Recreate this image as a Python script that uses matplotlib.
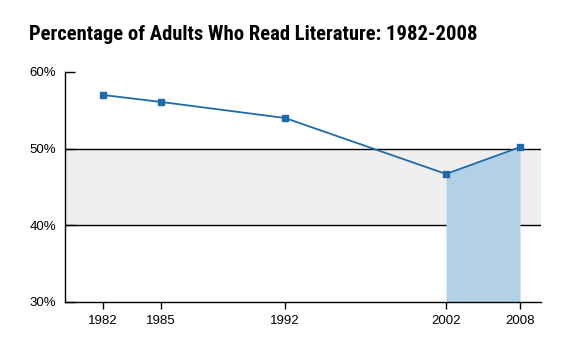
import numpy as np
import matplotlib
matplotlib.use('Agg')
import matplotlib.pyplot as plt

years = [1982, 1985, 1992, 2002, 2008]
percent = [57.0, 56.1, 54.0, 46.7, 50.2]
year_labels = ['1982', '1985', '1992', '2002', '2008']
y_ticks = [30, 40, 50, 60]
y_labels = ['30%', '40%', '50%', '60%']
title = 'Percentage of Adults Who Read Literature: 1982-2008'

LINE = '#1f6aa8'
FILL = '#b3d1e6'
BAND = '#eeefee'

# uneven year spacing on the x axis
knot_years = np.array([1980, 1982, 1985, 1992, 2002, 2008, 2012])
knot_pos = np.array([-38.4, 0, 57.7, 182, 343, 417, 466.6])


def forward(x):
    return np.interp(x, knot_years, knot_pos)


def inverse(p):
    return np.interp(p, knot_pos, knot_years)


def main():
    plt.rcParams['font.family'] = ['Liberation Sans', 'DejaVu Sans']
    fig = plt.figure(figsize=(5.71, 3.37), dpi=100)
    ax = fig.add_axes([65 / 571, 1 - 302 / 337, 476 / 571, 230 / 337])
    ax.set_xscale('function', functions=(forward, inverse))
    ax.set_xlim(1980.02, 2009.69)
    ax.set_ylim(30, 60)

    ax.axhspan(40, 50, color=BAND, lw=0, zorder=0)
    ax.axhline(40, color='black', lw=1, zorder=1)
    ax.axhline(50, color='black', lw=1, zorder=1)

    ax.fill_between(years[3:], percent[3:], 30, color=FILL, lw=0, zorder=2)
    ax.plot(years, percent, color=LINE, lw=1.3, marker='s', markersize=5,
            zorder=3)

    for side in ['top', 'right']:
        ax.spines[side].set_visible(False)
    for side in ['left', 'bottom']:
        ax.spines[side].set_linewidth(1)

    ax.set_xticks(years)
    ax.set_xticklabels(year_labels, fontsize=9.5)
    ax.set_yticks(y_ticks)
    ax.set_yticklabels(y_labels, fontsize=9.5)
    ax.tick_params(axis='x', direction='out', length=5, width=1, pad=4)
    ax.tick_params(axis='y', direction='in', length=7.5, width=1, pad=6.5)

    fig.text(29 / 571, 1 - 34 / 337, title, fontsize=14.9, fontweight='bold',
             family=['Roboto Condensed', 'DejaVu Sans'], va='center')

    fig.savefig('out.png', dpi=100)


if __name__ == '__main__':
    main()
